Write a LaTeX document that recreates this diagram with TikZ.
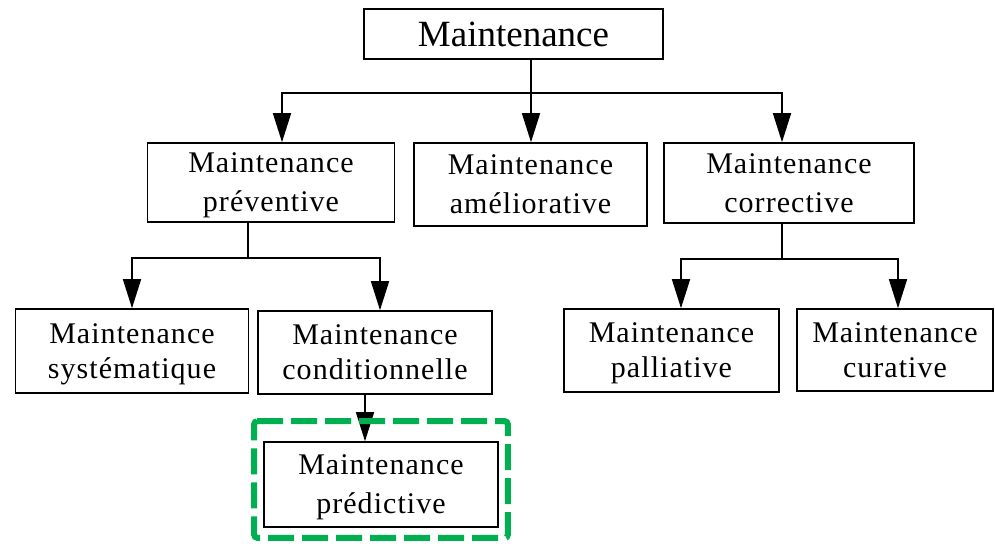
\documentclass[tikz,border=0pt]{standalone}
\usepackage{fontspec}
\usetikzlibrary{arrows.meta,calc}
\setmainfont{Liberation Serif}
\newfontfamily\headfont{Liberation Serif}
\newfontfamily\boxfont[LetterSpace=3.5]{Liberation Serif}
\definecolor{focusgreen}{HTML}{00B050}
% two-line box label: fixed top and bottom struts keep every box's text aligned the same way
\newcommand{\mlabel}[1]{\rule{0pt}{26pt}Maintenance\\\rule[-7pt]{0pt}{7pt}#1}
\tikzset{
  stroke/.style={line width=1.6pt, black},
  box/.style={draw, stroke, inner sep=0pt, align=center},
  rowtwo/.style={box, font=\boxfont\fontsize{30}{39}\selectfont},
  rowthree/.style={box, font=\boxfont\fontsize{30}{35}\selectfont},
  arr/.style={stroke, -{Triangle[length=29pt,width=18pt]}},
  focus/.style={line width=6pt, focusgreen, dash pattern=on 26pt off 8pt, rounded corners=3pt}
}
\begin{document}
\begin{tikzpicture}[x=1pt,y=-1pt]
\useasboundingbox (0,0) rectangle (995,543);

% root
\node[box, font=\headfont\fontsize{37}{44}\selectfont, minimum width=299pt, minimum height=50pt] (top) at (513.5,34) {Maintenance};

% second level
\node[rowtwo, minimum width=247pt, minimum height=79pt] (prev) at (271,182.5) {\mlabel{préventive}};
\node[rowtwo, minimum width=233pt, minimum height=83pt] (amel) at (530.5,184.5) {\mlabel{améliorative}};
\node[rowtwo, minimum width=250pt, minimum height=80pt] (corr) at (789,183) {\mlabel{corrective}};

% third level
\node[rowthree, minimum width=233pt, minimum height=84pt] (sys) at (132,351) {\mlabel{systématique}};
\node[rowthree, minimum width=234pt, minimum height=83pt] (cond) at (375,352.5) {\mlabel{conditionnelle}};
\node[rowthree, minimum width=215pt, minimum height=83pt] (pall) at (671.5,350.5) {\mlabel{palliative}};
\node[rowthree, minimum width=196pt, minimum height=82pt] (cur) at (895,350) {\mlabel{curative}};

% fourth level
\node[rowtwo, minimum width=234pt, minimum height=85pt] (pred) at (381,484.5) {\mlabel{prédictive}};

% branch points
\coordinate (j1) at (531,93);
\coordinate (j2) at (248,258);
\coordinate (j3) at (782,259);

% root to second level
\draw[stroke] (top.south -| j1) -- (j1);
\draw[arr] (j1) -| ([xshift=11pt]prev.north);
\draw[arr] (j1) -- (amel.north -| j1);
\draw[arr] (j1) -| ([xshift=-7pt]corr.north);

% preventive branch
\draw[stroke] (prev.south -| j2) -- (j2);
\draw[arr] (j2) -| (sys.north);
\draw[arr] (j2) -| ([xshift=5pt]cond.north);

% corrective branch
\draw[stroke] (corr.south -| j3) -- (j3);
\draw[arr] (j3) -| ([xshift=9.5pt]pall.north);
\draw[arr] (j3) -| ([xshift=3pt]cur.north);

% conditional to predictive
\draw[arr] ([xshift=-10pt]cond.south) -- ([xshift=-16pt]pred.north);

% highlight frame around the predictive box, traced clockwise from its top-left corner
\coordinate (fnw) at ($(pred.north west)+(-9,-20)$);
\coordinate (fse) at ($(pred.south east)+(9,10)$);
\draw[focus] (fnw) -- (fnw -| fse) -- (fse) -- (fse -| fnw) -- cycle;
\end{tikzpicture}
\end{document}
